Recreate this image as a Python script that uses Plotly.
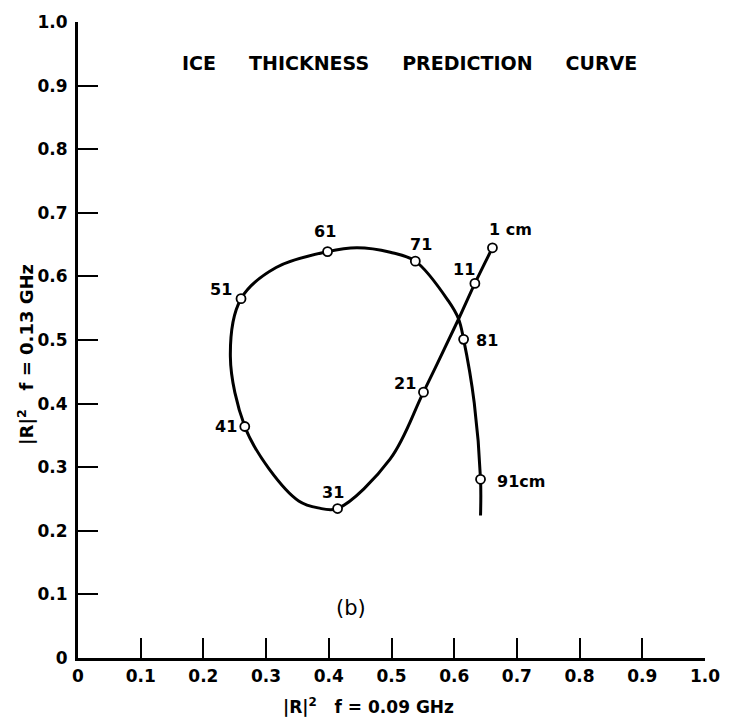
import plotly.graph_objects as go

# Curve path (thickness goes 1 cm -> 91 cm along the curve)
curve_x = [0.661, 0.633, 0.607, 0.551, 0.498, 0.414, 0.383, 0.352, 0.305, 0.266,
           0.243, 0.260, 0.316, 0.398, 0.445, 0.498, 0.538, 0.591, 0.607, 0.615,
           0.632, 0.642, 0.642]
curve_y = [0.645, 0.589, 0.533, 0.418, 0.313, 0.235, 0.236, 0.247, 0.297, 0.364,
           0.474, 0.565, 0.614, 0.639, 0.645, 0.638, 0.624, 0.561, 0.533, 0.501,
           0.401, 0.281, 0.224]

# Labelled thickness points
point_labels = ["1 cm", "11", "21", "31", "41", "51", "61", "71", "81", "91cm"]
point_x = [0.661, 0.633, 0.551, 0.414, 0.266, 0.260, 0.398, 0.538, 0.615, 0.642]
point_y = [0.645, 0.589, 0.418, 0.235, 0.364, 0.565, 0.639, 0.624, 0.501, 0.281]

# Label anchor positions
label_x = [0.653, 0.615, 0.521, 0.407, 0.257, 0.248, 0.394, 0.547, 0.631, 0.665]
label_y = [0.673, 0.611, 0.432, 0.261, 0.364, 0.580, 0.670, 0.650, 0.500, 0.277]
label_anchor = ["left", "center", "center", "center", "right", "right", "center",
                "center", "left", "left"]

tick_vals = [0, 0.1, 0.2, 0.3, 0.4, 0.5, 0.6, 0.7, 0.8, 0.9, 1.0]
tick_text = ["0", "0.1", "0.2", "0.3", "0.4", "0.5", "0.6", "0.7", "0.8", "0.9", "1.0"]

FONT = "DejaVu Sans"
NB = "\u00a0"

fig = go.Figure()
fig.add_trace(go.Scatter(
    x=curve_x, y=curve_y, mode="lines",
    line=dict(color="black", width=3, shape="spline", smoothing=1.0),
    hoverinfo="skip", showlegend=False))
fig.add_trace(go.Scatter(
    x=point_x, y=point_y, mode="markers",
    marker=dict(symbol="circle", size=9, color="white",
                line=dict(color="black", width=1.8)),
    showlegend=False))

for t, x, y, a in zip(point_labels, label_x, label_y, label_anchor):
    fig.add_annotation(x=x, y=y, xref="x", yref="y", text=t, showarrow=False,
                       xanchor=a, yanchor="middle",
                       font=dict(family=FONT, size=16, color="black", weight="bold"))

fig.add_annotation(x=0.436, y=0.079, xref="x", yref="y", text="(b)", showarrow=False,
                   font=dict(family=FONT, size=21, color="black"))
fig.add_annotation(x=0.529, y=0.935, xref="x", yref="y",
                   text=f"ICE{NB*5}THICKNESS{NB*5}PREDICTION{NB*5}CURVE",
                   showarrow=False,
                   font=dict(family=FONT, size=19, color="black", weight="bold"))
fig.add_annotation(x=0.463, y=-0.076, xref="paper", yref="paper",
                   text=f"|R|<sup>2</sup>{NB*3}f = 0.09 GHz", showarrow=False,
                   yanchor="middle",
                   font=dict(family=FONT, size=17, color="black", weight="bold"))
fig.add_annotation(x=-0.084, y=0.477, xref="paper", yref="paper",
                   text=f"|R|<sup>2</sup>{NB*3}f = 0.13 GHz", showarrow=False,
                   xanchor="center", textangle=-90,
                   font=dict(family=FONT, size=18, color="black", weight="bold"))

axis_common = dict(range=[0, 1], tickvals=tick_vals, ticktext=tick_text,
                   showgrid=False, zeroline=False, showline=True,
                   linecolor="black", linewidth=3, ticks="inside", ticklen=20,
                   tickwidth=2, tickcolor="black", ticklabeloverflow="allow",
                   tickfont=dict(family=FONT, size=17, color="black", weight="bold"))

# page body has an 8px margin, so the figure is sized to fit inside the window
fig.update_layout(
    width=716, height=712,
    margin=dict(l=70, r=4, t=7, b=62),
    paper_bgcolor="white", plot_bgcolor="white",
    xaxis=dict(**axis_common, ticklabelstandoff=1),
    yaxis=dict(**axis_common, ticklabelstandoff=4),
)

fig.write_html("out.html")
